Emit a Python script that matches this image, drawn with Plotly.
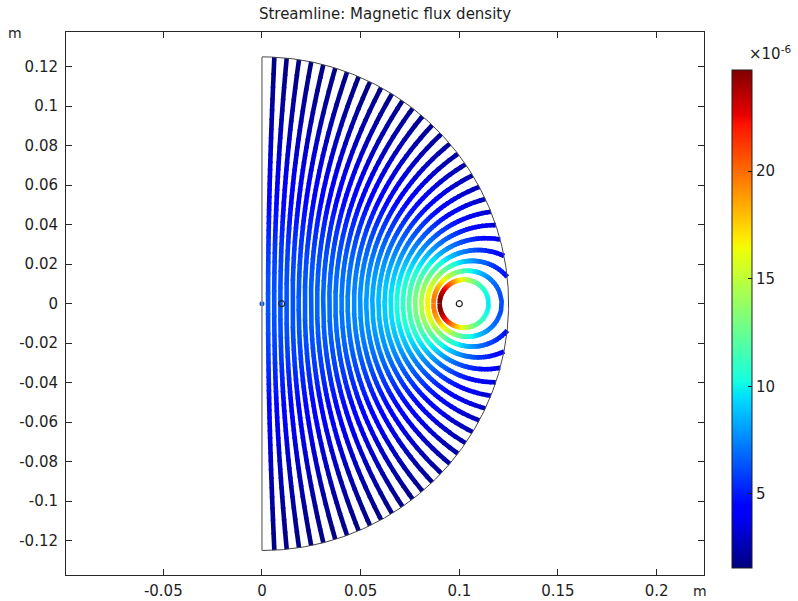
import numpy as np
import plotly.graph_objects as go

# ---- model parameters (axisymmetric current loop in an r-z half disk) ----
MU0 = 4e-7 * np.pi
coil_radius = 0.1          # m, loop radius (position of the wire in the r-z plane)
coil_current = 1.0         # A
domain_radius = 0.125      # m, radius of the half-disk computational domain
wire_markers_r = [0.01, 0.1]   # m, small geometry circles drawn on the midplane

# streamline start points on the midplane z = 0 (m)
seed_r = [0.0, 0.0031, 0.0062, 0.0093, 0.0124, 0.0155, 0.0186, 0.0217, 0.0248,
          0.0279, 0.0310, 0.0341, 0.0372, 0.0403, 0.0434, 0.0466, 0.0497, 0.0528,
          0.0559, 0.0590, 0.0621, 0.0652, 0.0683, 0.0714, 0.0745, 0.0776, 0.0807,
          0.0838, 0.0869, 0.0900]

# colour range (x 1e-6 T) and colourbar ticks
color_min = 1.56
color_max = 24.7
cbar_ticks = [5, 10, 15, 20]

x_ticks = [-0.05, 0, 0.05, 0.1, 0.15, 0.2]
x_tick_text = ["-0.05", "0", "0.05", "0.1", "0.15", "0.2"]
y_ticks = [0.12, 0.1, 0.08, 0.06, 0.04, 0.02, 0, -0.02, -0.04, -0.06, -0.08, -0.1, -0.12]
y_tick_text = ["0.12", "0.1", "0.08", "0.06", "0.04", "0.02", "0",
               "-0.02", "-0.04", "-0.06", "-0.08", "-0.1", "-0.12"]

FONT = "DejaVu Sans"


def ellipke(m):
    """Complete elliptic integrals K(m), E(m) by the AGM method."""
    a = np.ones_like(m)
    b = np.sqrt(1.0 - m)
    c = np.sqrt(m)
    s = 0.5 * m
    p = 0.5
    for _ in range(14):
        a, b, c = (a + b) / 2.0, np.sqrt(a * b), (a - b) / 2.0
        p *= 2.0
        s = s + p * c * c
    K = np.pi / (2.0 * a)
    return K, K * (1.0 - s)


def loop_field(r, z):
    """(B_r, B_z) of a circular current loop, in tesla."""
    a = coil_radius
    r = np.maximum(r, 1e-9)
    q = (a + r) ** 2 + z ** 2
    m = np.minimum(4.0 * a * r / q, 1.0 - 1e-15)
    K, E = ellipke(m)
    d = (a - r) ** 2 + z ** 2
    C = MU0 * coil_current / (2.0 * np.pi)
    sq = np.sqrt(q)
    bz = C / sq * (K + (a * a - r * r - z * z) / d * E)
    br = C * z / (r * sq) * (-K + (a * a + r * r + z * z) / d * E)
    return br, bz


def trace_lines(seeds, ds=0.0004, nmax=2500):
    """Integrate field lines from midplane seeds in both directions (RK4)."""
    seeds = np.asarray(seeds, float)
    n = len(seeds)
    r = np.concatenate([seeds, seeds])
    z = np.zeros(2 * n)
    sgn = np.concatenate([np.ones(n), -np.ones(n)])
    R2 = domain_radius ** 2

    def direction(rr, zz):
        br, bz = loop_field(rr, zz)
        nb = np.hypot(br, bz)
        return sgn * br / nb, sgn * bz / nb

    active = np.ones(2 * n, bool)
    closed = np.zeros(n, bool)
    hist_r = [r.copy()]
    hist_z = [z.copy()]
    stop = np.full(2 * n, -1)
    travelled = 0.0
    for step in range(1, nmax + 1):
        k1r, k1z = direction(r, z)
        k2r, k2z = direction(r + 0.5 * ds * k1r, z + 0.5 * ds * k1z)
        k3r, k3z = direction(r + 0.5 * ds * k2r, z + 0.5 * ds * k2z)
        k4r, k4z = direction(r + ds * k3r, z + ds * k3z)
        rn = r + ds / 6.0 * (k1r + 2 * k2r + 2 * k3r + k4r)
        zn = z + ds / 6.0 * (k1z + 2 * k2z + 2 * k3z + k4z)
        travelled += ds

        out = active & ((rn < 0) | (rn ** 2 + zn ** 2 > R2))
        for i in np.where(out)[0]:
            r0, z0, r1, z1 = r[i], z[i], rn[i], zn[i]
            dr, dz = r1 - r0, z1 - z0
            ts = []
            if r1 < 0:
                ts.append(r0 / (r0 - r1))
            A = dr * dr + dz * dz
            B = 2 * (r0 * dr + z0 * dz)
            Cc = r0 * r0 + z0 * z0 - R2
            disc = B * B - 4 * A * Cc
            if disc >= 0:
                t = (-B + np.sqrt(disc)) / (2 * A)
                if 0 <= t <= 1:
                    ts.append(t)
            t = min(ts) if ts else 1.0
            rn[i] = r0 + t * dr
            zn[i] = z0 + t * dz
            stop[i] = step
        # closed loops around the wire
        if travelled > 0.03:
            dist = np.hypot(rn[:n] - seeds, zn[:n])
            cl = active[:n] & ~out[:n] & (dist < 0.6 * ds)
            for i in np.where(cl)[0]:
                rn[i], zn[i] = seeds[i], 0.0
                stop[i] = step
                closed[i] = True
                stop[n + i] = 0
                active[n + i] = False
            out[:n] |= cl
        rn = np.where(active, rn, r)
        zn = np.where(active, zn, z)
        active &= ~out
        hist_r.append(rn.copy())
        hist_z.append(zn.copy())
        r, z = rn, zn
        if not active.any():
            break
    stop[stop < 0] = len(hist_r) - 1
    HR = np.array(hist_r)
    HZ = np.array(hist_z)
    lines = []
    for i in range(n):
        fr = HR[: stop[i] + 1, i]
        fz = HZ[: stop[i] + 1, i]
        if closed[i]:
            lines.append((fr, fz))
        else:
            br_ = HR[: stop[n + i] + 1, n + i][::-1]
            bz_ = HZ[: stop[n + i] + 1, n + i][::-1]
            lines.append((np.concatenate([br_, fr[1:]]), np.concatenate([bz_, fz[1:]])))
    return lines


# matplotlib-style jet colour table
_jet_r = ([0, 0.35, 0.66, 0.89, 1], [0, 0, 1, 1, 0.5])
_jet_g = ([0, 0.125, 0.375, 0.64, 0.91, 1], [0, 0, 1, 1, 0, 0])
_jet_b = ([0, 0.11, 0.34, 0.65, 1], [0.5, 1, 1, 0, 0])


def jet(t):
    t = float(np.clip(t, 0, 1))
    rr = np.interp(t, *_jet_r)
    gg = np.interp(t, *_jet_g)
    bb = np.interp(t, *_jet_b)
    return "rgb(%d,%d,%d)" % (round(rr * 255), round(gg * 255), round(bb * 255))


jet_stops = sorted(set(_jet_r[0] + _jet_g[0] + _jet_b[0]))
jet_scale = [[s, jet(s)] for s in jet_stops]

# ---- streamlines, grouped into colour bins ----
field_seeds = [s for s in seed_r if s > 0]
axis_seeds = [s for s in seed_r if s == 0]
lines = trace_lines(field_seeds)

nbins = 128
bin_x = [[] for _ in range(nbins)]
bin_y = [[] for _ in range(nbins)]
for lr, lz in lines:
    br, bz = loop_field(lr, lz)
    val = np.hypot(br, bz) * 1e6
    seg = 0.5 * (val[1:] + val[:-1])
    idx = np.clip(((seg - color_min) / (color_max - color_min) * nbins).astype(int), 0, nbins - 1)
    npts = len(lr)
    start = 0
    for k in range(1, len(idx) + 1):
        if k == len(idx) or idx[k] != idx[start]:
            b = idx[start]
            # overlap neighbouring runs by one vertex so the joins stay closed
            s0 = max(start - 1, 0)
            s1 = min(k + 2, npts)
            bin_x[b].extend(list(lr[s0:s1]) + [None])
            bin_y[b].extend(list(lz[s0:s1]) + [None])
            start = k

fig = go.Figure()
for b in range(nbins):
    if not bin_x[b]:
        continue
    fig.add_trace(go.Scatter(
        x=bin_x[b], y=bin_y[b], mode="lines",
        line=dict(color=jet((b + 0.5) / nbins), width=4.6),
        hoverinfo="skip", showlegend=False))

# streamline starting on the symmetry axis (degenerates to a dot)
if axis_seeds:
    ab_r, ab_z = loop_field(np.array(axis_seeds), np.zeros(len(axis_seeds)))
    av = np.hypot(ab_r, ab_z) * 1e6
    fig.add_trace(go.Scatter(
        x=axis_seeds, y=[0.0] * len(axis_seeds), mode="markers",
        marker=dict(symbol="circle", size=5,
                    color=[jet((v - color_min) / (color_max - color_min)) for v in av]),
        hoverinfo="skip", showlegend=False))

# ---- geometry: half-disk boundary ----
theta = np.linspace(-np.pi / 2, np.pi / 2, 400)
fig.add_trace(go.Scatter(
    x=domain_radius * np.cos(theta), y=domain_radius * np.sin(theta), mode="lines",
    line=dict(color="rgb(70,70,70)", width=1), hoverinfo="skip", showlegend=False))
fig.add_trace(go.Scatter(
    x=[0, 0], y=[-domain_radius, domain_radius], mode="lines",
    line=dict(color="rgb(140,140,140)", width=1.6), hoverinfo="skip", showlegend=False))
fig.add_trace(go.Scatter(
    x=wire_markers_r, y=[0.0] * len(wire_markers_r), mode="markers",
    marker=dict(symbol="circle-open", size=6, color="rgb(30,30,30)", line=dict(width=1.2)),
    hoverinfo="skip", showlegend=False))

# colour bar carrier
fig.add_trace(go.Scatter(
    x=[0], y=[0], mode="markers",
    marker=dict(size=0.1, opacity=0, color=[color_min], cmin=color_min, cmax=color_max,
                colorscale=jet_scale, showscale=True,
                colorbar=dict(
                    x=(732 - 66) / 638, xanchor="left", xpad=0,
                    y=(575 - 319) / 543, yanchor="middle", ypad=0,
                    thickness=20, thicknessmode="pixels",
                    len=498, lenmode="pixels",
                    outlinewidth=1, outlinecolor="rgb(30,30,30)",
                    tickvals=cbar_ticks, ticktext=[str(t) for t in cbar_ticks],
                    ticks="inside", ticklen=4, tickcolor="rgb(30,30,30)",
                    tickfont=dict(family=FONT, size=15, color="rgb(30,30,30)"))),
    hoverinfo="skip", showlegend=False))

axis_common = dict(showgrid=False, zeroline=False, showline=True, linecolor="rgb(40,40,40)",
                   linewidth=1, mirror="ticks", ticks="inside", ticklen=6,
                   tickcolor="rgb(40,40,40)", automargin=False,
                   tickfont=dict(family=FONT, size=15, color="rgb(30,30,30)"))

fig.update_layout(
    width=798, height=601,
    margin=dict(l=66, r=94, t=32, b=26, autoexpand=False),
    paper_bgcolor="white", plot_bgcolor="white",
    title=dict(text="Streamline: Magnetic flux density", x=0.5, xref="paper",
               y=1 - 14 / 601, yref="container", yanchor="middle", xanchor="center",
               font=dict(family=FONT, size=15, color="rgb(30,30,30)")),
    xaxis=dict(range=[-0.0993, 0.224], tickvals=x_ticks, ticktext=x_tick_text,
               ticklabelstandoff=2, **axis_common),
    yaxis=dict(range=[-0.1374, 0.1376], tickvals=y_ticks, ticktext=y_tick_text,
               ticklabelstandoff=4, **axis_common),
    annotations=[
        dict(text="m", x=(15 - 66) / 638, y=(575 - 33) / 543, xref="paper", yref="paper",
             showarrow=False, xanchor="center", yanchor="middle",
             font=dict(family=FONT, size=14, color="rgb(30,30,30)")),
        dict(text="m", x=(700 - 66) / 638, y=(575 - 591) / 543, xref="paper", yref="paper",
             showarrow=False, xanchor="center", yanchor="middle",
             font=dict(family=FONT, size=14, color="rgb(30,30,30)")),
        dict(text="×10<sup>-6</sup>", x=(770 - 66) / 638, y=(575 - 53) / 543,
             xref="paper", yref="paper", showarrow=False, xanchor="center", yanchor="middle",
             font=dict(family=FONT, size=15, color="rgb(30,30,30)")),
    ],
)

fig.write_html("out.html")
